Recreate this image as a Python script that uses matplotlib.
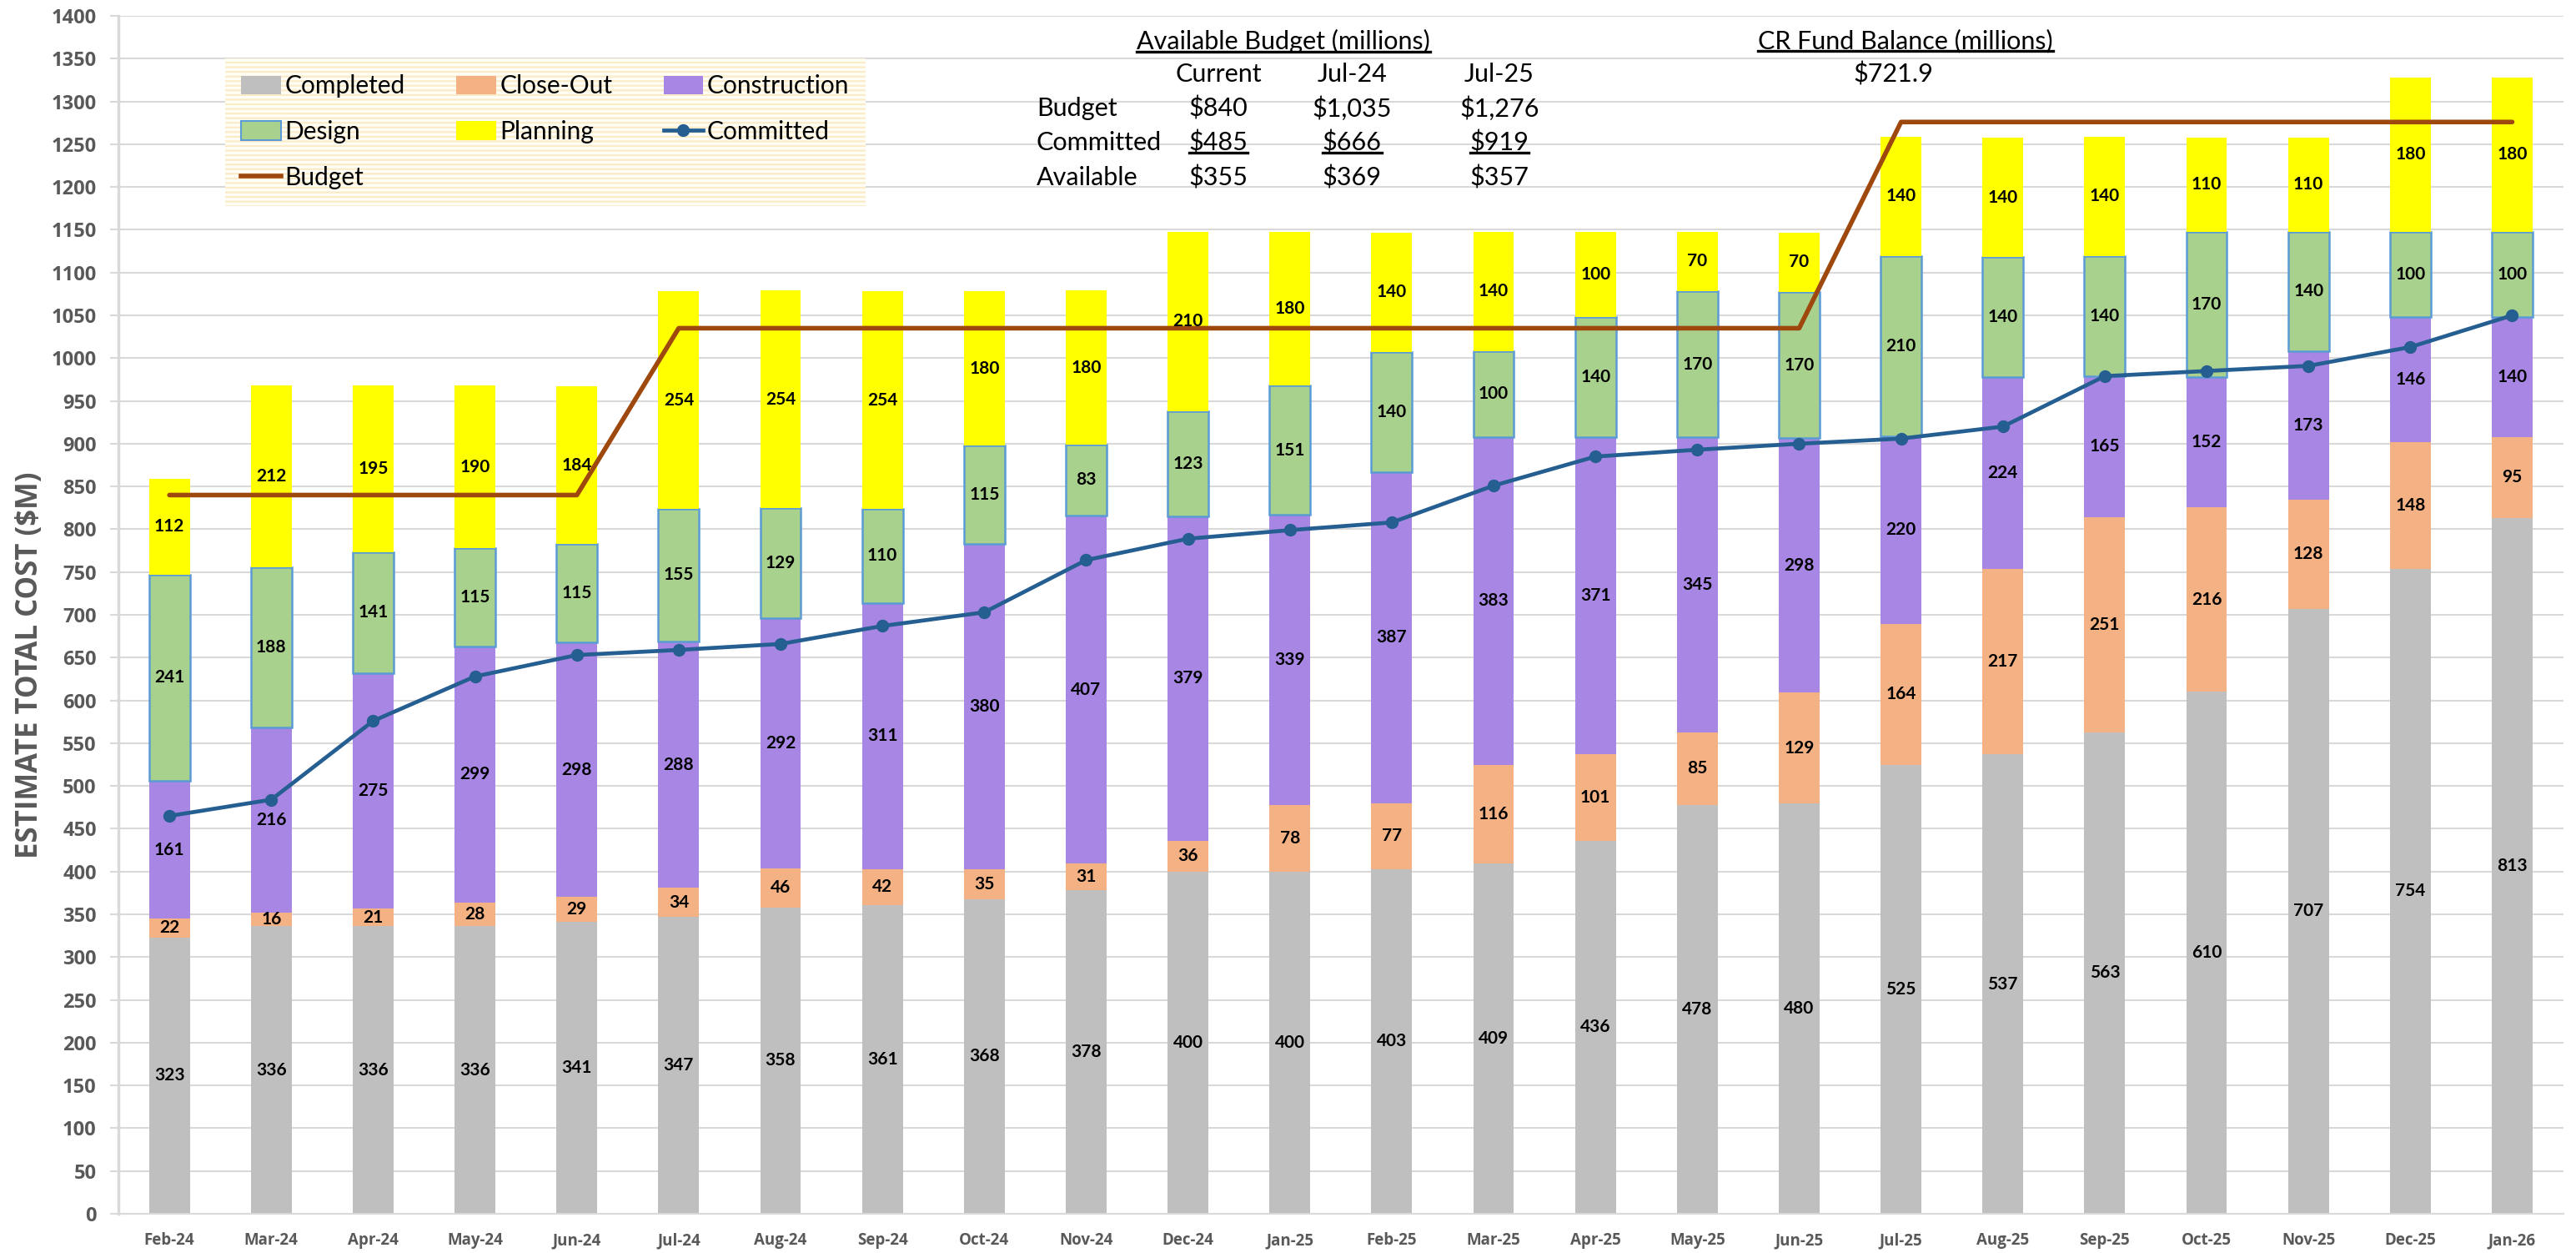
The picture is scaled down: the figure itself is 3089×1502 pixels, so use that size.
import matplotlib
matplotlib.use("Agg")
import matplotlib.pyplot as plt
from matplotlib.patches import Patch
from matplotlib.lines import Line2D
import numpy as np

plt.rcParams['font.family'] = ['Lato', 'DejaVu Sans']
plt.rcParams['hatch.linewidth'] = 1.6

# Data
months = ["Feb-24", "Mar-24", "Apr-24", "May-24", "Jun-24", "Jul-24", "Aug-24", "Sep-24",
          "Oct-24", "Nov-24", "Dec-24", "Jan-25", "Feb-25", "Mar-25", "Apr-25", "May-25",
          "Jun-25", "Jul-25", "Aug-25", "Sep-25", "Oct-25", "Nov-25", "Dec-25", "Jan-26"]
completed = [323, 336, 336, 336, 341, 347, 358, 361, 368, 378, 400, 400,
             403, 409, 436, 478, 480, 525, 537, 563, 610, 707, 754, 813]
close_out = [22, 16, 21, 28, 29, 34, 46, 42, 35, 31, 36, 78,
             77, 116, 101, 85, 129, 164, 217, 251, 216, 128, 148, 95]
construction = [161, 216, 275, 299, 298, 288, 292, 311, 380, 407, 379, 339,
                387, 383, 371, 345, 298, 220, 224, 165, 152, 173, 146, 140]
design = [241, 188, 141, 115, 115, 155, 129, 110, 115, 83, 123, 151,
          140, 100, 140, 170, 170, 210, 140, 140, 170, 140, 100, 100]
planning = [112, 212, 195, 190, 184, 254, 254, 254, 180, 180, 210, 180,
            140, 140, 100, 70, 70, 140, 140, 140, 110, 110, 180, 180]
committed = [465, 484, 576, 628, 653, 659, 666, 687, 703, 764, 789, 799,
             808, 851, 885, 893, 900, 906, 920, 979, 985, 991, 1013, 1050]
budget = [840, 840, 840, 840, 840, 1035, 1035, 1035, 1035, 1035, 1035, 1035,
          1035, 1035, 1035, 1035, 1035, 1276, 1276, 1276, 1276, 1276, 1276, 1276]

table_cols = ["Current", "Jul-24", "Jul-25"]
table_rows = ["Budget", "Committed", "Available"]
table_vals = [["$840", "$1,035", "$1,276"],
              ["$485", "$666", "$919"],
              ["$355", "$369", "$357"]]
fund_balance = "$721.9"

# Colors
c_completed = '#BFBFBF'
c_closeout = '#F4B183'
c_construction = '#A886E3'
c_design = '#A9D18E'
c_planning = '#FFFF00'
c_committed = '#255E91'
c_budget = '#9E480E'
grid_c = '#D9D9D9'
tick_c = '#595959'

fig = plt.figure(figsize=(30.89, 15.02), dpi=100, facecolor='white')
ax = fig.add_axes([0.046, 0.0313, 0.949, 0.956])

x = np.arange(len(months))
w = 0.4
series = [(completed, c_completed, 'Completed', 'none'),
          (close_out, c_closeout, 'Close-Out', 'none'),
          (construction, c_construction, 'Construction', 'none'),
          (design, c_design, 'Design', '#5B9BD5'),
          (planning, c_planning, 'Planning', 'none')]

bottom = np.zeros(len(months))
for vals, col, name, ec in series:
    vals = np.array(vals, dtype=float)
    ax.bar(x, vals, w, bottom=bottom, color=col, edgecolor=ec,
           linewidth=1.8 if ec != 'none' else 0, zorder=2)
    for xi, b, v in zip(x, bottom, vals):
        ax.text(xi, b + v / 2, f'{int(v)}', ha='center', va='center',
                fontsize=15, fontweight='bold', color='black', zorder=5)
    bottom += vals

ax.plot(x, budget, color=c_budget, lw=4, solid_capstyle='round', zorder=3)
ax.plot(x, committed, color=c_committed, lw=3.4, marker='o', markersize=10, zorder=4)

ax.set_xlim(-0.5, len(months) - 0.5)
ax.set_ylim(0, 1400)
ax.set_yticks(np.arange(0, 1401, 50))
ax.set_xticks(x)
ax.set_xticklabels(months)
for lab in ax.get_xticklabels():
    lab.set_family(['Open Sans', 'DejaVu Sans'])
for lab in ax.get_yticklabels():
    lab.set_family(['Open Sans', 'DejaVu Sans'])
ax.tick_params(axis='x', length=0, pad=16, labelsize=13.5, labelcolor=tick_c)
ax.tick_params(axis='y', length=7, width=1.5, color=grid_c, pad=12,
               labelsize=17, labelcolor=tick_c)
for lab in ax.get_xticklabels() + ax.get_yticklabels():
    lab.set_fontweight('bold')

ax.grid(axis='y', color=grid_c, lw=1.5, zorder=0)
ax.set_axisbelow(True)
for s in ['top', 'right']:
    ax.spines[s].set_visible(False)
ax.spines['left'].set_color(grid_c)
ax.spines['left'].set_linewidth(2.5)
ax.spines['bottom'].set_color(grid_c)
ax.spines['bottom'].set_linewidth(1.5)

fig.text(0.0115, 0.469, 'ESTIMATE TOTAL COST ($M)', rotation=90, ha='center', va='center',
         fontsize=25, fontweight='bold', color=tick_c, family=['Open Sans', 'DejaVu Sans'])

# Legend (ordered so that rows read across)
h_completed = Patch(facecolor=c_completed, label='Completed')
h_closeout = Patch(facecolor=c_closeout, label='Close-Out')
h_construction = Patch(facecolor=c_construction, label='Construction')
h_design = Patch(facecolor=c_design, edgecolor='#5B9BD5', linewidth=1.5, label='Design')
h_planning = Patch(facecolor=c_planning, label='Planning')
h_committed = Line2D([], [], color=c_committed, lw=3.4, marker='o', markersize=10, label='Committed')
h_budget = Line2D([], [], color=c_budget, lw=4, label='Budget')
handles = [h_completed, h_design, h_budget, h_closeout, h_planning, h_construction, h_committed]
leg = ax.legend(handles=handles, ncol=3, loc='upper left',
                bbox_to_anchor=(255 / 3089, 1 - 55 / 1502), bbox_transform=fig.transFigure,
                fontsize=21.5, frameon=True, fancybox=False, handlelength=1.6, handleheight=0.8,
                handletextpad=0.15, columnspacing=2.05, labelspacing=0.9, borderpad=0.65)
frame = leg.get_frame()
frame.set_facecolor('#FFFEF6')
frame.set_edgecolor('#FBECC8')
frame.set_hatch('---')
frame.set_linewidth(0)
frame.set_alpha(1)

# Budget table
def ftxt(px, py, s, ha='center', **kw):
    return fig.text(px / 3089, 1 - py / 1502, s, ha=ha, va='center', fontsize=22, color='black', **kw)

under = []
under.append(ftxt(1539, 49, 'Available Budget (millions)'))
under.append(ftxt(2285, 49, 'CR Fund Balance (millions)'))
col_x = [1461, 1621, 1798]
row_y = [130, 171, 213]
for cx, cn in zip(col_x, table_cols):
    ftxt(cx, 89, cn)
ftxt(2270, 89, fund_balance)
for ry, rn, rv in zip(row_y, table_rows, table_vals):
    ftxt(1243, ry, rn, ha='left')
    for cx, v in zip(col_x, rv):
        t = ftxt(cx, ry, v)
        if rn == 'Committed':
            under.append(t)

fig.canvas.draw()
rend = fig.canvas.get_renderer()
inv = fig.transFigure.inverted()
for t in under:
    bb = t.get_window_extent(rend)
    (x0, y0), (x1, _) = inv.transform([(bb.x0, bb.y0 + 2), (bb.x1, bb.y0 + 2)])
    fig.add_artist(Line2D([x0, x1], [y0, y0], color='black', lw=2.4, transform=fig.transFigure))

fig.savefig('out.png', dpi=100, facecolor='white')
